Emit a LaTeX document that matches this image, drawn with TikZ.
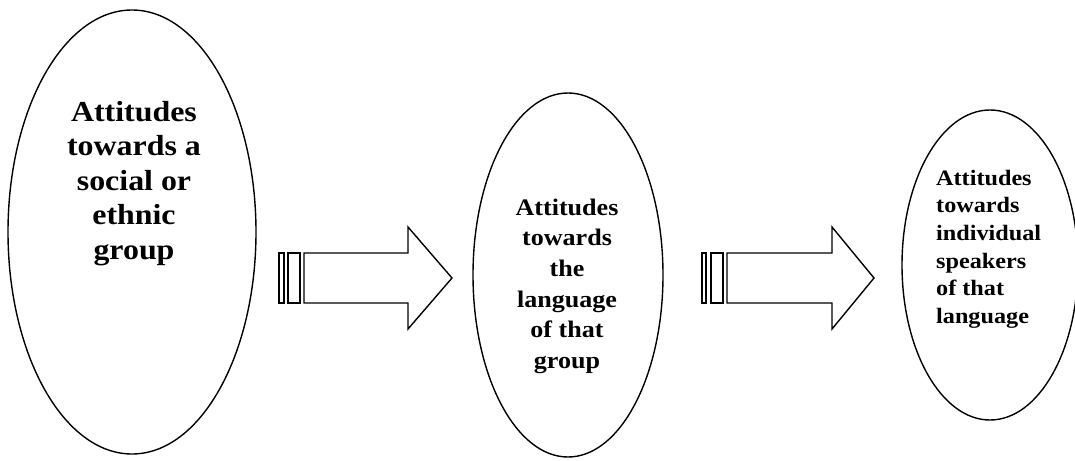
\documentclass[tikz,border=0pt]{standalone}
\usepackage{fontspec}
\setmainfont{Liberation Serif}[FakeStretch=1.1]
\usetikzlibrary{shapes.geometric}
\tikzset{
  oval/.style={draw, ellipse, line width=1.4pt, inner sep=0pt},
  label1/.style={inner sep=0pt, align=center, font=\bfseries\fontsize{29}{34.5}\selectfont},
  label2/.style={inner sep=0pt, align=center, font=\bfseries\fontsize{23.7}{30.6}\selectfont},
  label3/.style={inner sep=0pt, align=left, font=\bfseries\fontsize{22}{27.6}\selectfont},
  arrowbody/.style={draw, line width=1.4pt, line join=miter},
}
\begin{document}
\begin{tikzpicture}[x=1pt,y=-1pt]
\useasboundingbox (0,0) rectangle (1075,460);
% ellipses
\node[oval, minimum width=248pt, minimum height=444pt] (e1) at (132,232) {};
\node[oval, minimum width=190pt, minimum height=364pt] (e2) at (568,275) {};
\node[oval, minimum width=176pt, minimum height=310pt] (e3) at (990,265) {};
% texts
\node[label1, anchor=north] (t1) at (134,101) {Attitudes\\towards a\\social or\\ethnic\\group};
\node[label2, anchor=north] (t2) at (567,198.6) {Attitudes\\towards\\the\\language\\of that\\group};
\node[label3, anchor=north west] (t3) at (936,169.8) {Attitudes\\towards\\individual\\speakers\\of that\\language};
% striped arrow 1
\draw[arrowbody] (279,253) rectangle (284,303);
\draw[arrowbody] (288,253) rectangle (300,303);
\draw[arrowbody] (304,253) -- (408,253) -- (408,227) -- (452,278) -- (408,329) -- (408,303) -- (304,303) -- cycle;
% striped arrow 2
\draw[arrowbody] (702,253) rectangle (706,303);
\draw[arrowbody] (711,253) rectangle (723,303);
\draw[arrowbody] (727,253) -- (832,253) -- (832,227) -- (874,278) -- (832,329) -- (832,303) -- (727,303) -- cycle;
\end{tikzpicture}
\end{document}
